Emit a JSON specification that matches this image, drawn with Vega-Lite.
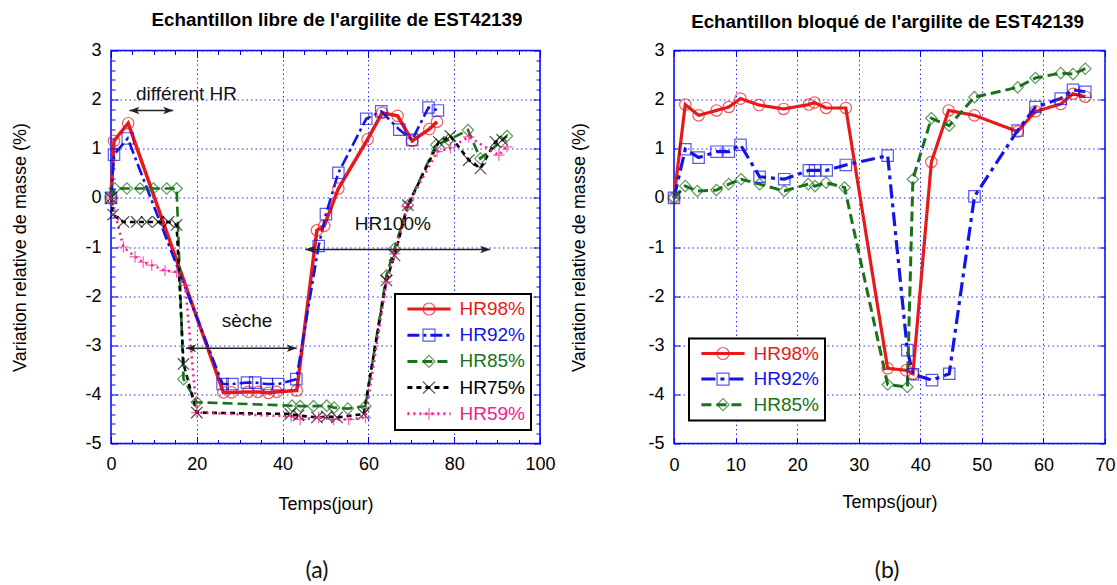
{
  "$schema": "https://vega.github.io/schema/vega-lite/v6.json",
  "background": "white",
  "padding": {"left": 11, "top": 9.5, "right": 3, "bottom": 1},
  "spacing": 13,
  "datasets": {
    "left": [
      {"s": "HR98%", "t": 0, "v": 0}, {"s": "HR98%", "t": 0.7, "v": 1.16}, {"s": "HR98%", "t": 4, "v": 1.52}, {"s": "HR98%", "t": 26.2, "v": -3.96}, {"s": "HR98%", "t": 28.1, "v": -3.96}, {"s": "HR98%", "t": 32, "v": -3.95}, {"s": "HR98%", "t": 34.3, "v": -3.95}, {"s": "HR98%", "t": 36.7, "v": -3.97}, {"s": "HR98%", "t": 38.6, "v": -3.95}, {"s": "HR98%", "t": 43.3, "v": -3.92}, {"s": "HR98%", "t": 48, "v": -0.66}, {"s": "HR98%", "t": 49.7, "v": -0.57}, {"s": "HR98%", "t": 53, "v": 0.19}, {"s": "HR98%", "t": 59.8, "v": 1.19}, {"s": "HR98%", "t": 63.2, "v": 1.73}, {"s": "HR98%", "t": 66.8, "v": 1.67}, {"s": "HR98%", "t": 70.2, "v": 1.16}, {"s": "HR98%", "t": 74.2, "v": 1.4}, {"s": "HR98%", "t": 76, "v": 1.55},
      {"s": "HR92%", "t": 0, "v": 0}, {"s": "HR92%", "t": 0.7, "v": 0.88}, {"s": "HR92%", "t": 3.9, "v": 1.21}, {"s": "HR92%", "t": 26, "v": -3.79}, {"s": "HR92%", "t": 28.3, "v": -3.79}, {"s": "HR92%", "t": 31.7, "v": -3.76}, {"s": "HR92%", "t": 33.6, "v": -3.76}, {"s": "HR92%", "t": 36.3, "v": -3.79}, {"s": "HR92%", "t": 39, "v": -3.79}, {"s": "HR92%", "t": 43.2, "v": -3.69}, {"s": "HR92%", "t": 48.4, "v": -0.98}, {"s": "HR92%", "t": 50.1, "v": -0.33}, {"s": "HR92%", "t": 53, "v": 0.51}, {"s": "HR92%", "t": 59.5, "v": 1.61}, {"s": "HR92%", "t": 63, "v": 1.76}, {"s": "HR92%", "t": 67.2, "v": 1.39}, {"s": "HR92%", "t": 70.2, "v": 1.18}, {"s": "HR92%", "t": 74, "v": 1.84}, {"s": "HR92%", "t": 76.2, "v": 1.78},
      {"s": "HR85%", "t": 0, "v": 0}, {"s": "HR85%", "t": 0.9, "v": 0.19}, {"s": "HR85%", "t": 3.7, "v": 0.19}, {"s": "HR85%", "t": 6.8, "v": 0.19}, {"s": "HR85%", "t": 9.9, "v": 0.19}, {"s": "HR85%", "t": 13, "v": 0.19}, {"s": "HR85%", "t": 15.3, "v": 0.19}, {"s": "HR85%", "t": 16.9, "v": -3.69}, {"s": "HR85%", "t": 20, "v": -4.16}, {"s": "HR85%", "t": 42.2, "v": -4.23}, {"s": "HR85%", "t": 44.1, "v": -4.24}, {"s": "HR85%", "t": 47.2, "v": -4.24}, {"s": "HR85%", "t": 50.3, "v": -4.23}, {"s": "HR85%", "t": 52, "v": -4.27}, {"s": "HR85%", "t": 55.2, "v": -4.29}, {"s": "HR85%", "t": 59.3, "v": -4.24}, {"s": "HR85%", "t": 64.2, "v": -1.58}, {"s": "HR85%", "t": 66.1, "v": -1.03}, {"s": "HR85%", "t": 69.2, "v": -0.15}, {"s": "HR85%", "t": 75.8, "v": 1.08}, {"s": "HR85%", "t": 78.7, "v": 1.18}, {"s": "HR85%", "t": 83.2, "v": 1.38}, {"s": "HR85%", "t": 86.1, "v": 0.8}, {"s": "HR85%", "t": 90.8, "v": 1.14}, {"s": "HR85%", "t": 92.3, "v": 1.26},
      {"s": "HR75%", "t": 0, "v": 0}, {"s": "HR75%", "t": 0.5, "v": -0.34}, {"s": "HR75%", "t": 2.9, "v": -0.49}, {"s": "HR75%", "t": 6, "v": -0.49}, {"s": "HR75%", "t": 8.3, "v": -0.49}, {"s": "HR75%", "t": 11, "v": -0.49}, {"s": "HR75%", "t": 13.4, "v": -0.49}, {"s": "HR75%", "t": 15.3, "v": -0.55}, {"s": "HR75%", "t": 16.9, "v": -3.38}, {"s": "HR75%", "t": 20, "v": -4.37}, {"s": "HR75%", "t": 41.8, "v": -4.4}, {"s": "HR75%", "t": 43.7, "v": -4.43}, {"s": "HR75%", "t": 48, "v": -4.47}, {"s": "HR75%", "t": 50.3, "v": -4.45}, {"s": "HR75%", "t": 52.7, "v": -4.47}, {"s": "HR75%", "t": 58.9, "v": -4.4}, {"s": "HR75%", "t": 64.2, "v": -1.68}, {"s": "HR75%", "t": 66.1, "v": -1.17}, {"s": "HR75%", "t": 69.2, "v": -0.15}, {"s": "HR75%", "t": 76.4, "v": 1.14}, {"s": "HR75%", "t": 79.1, "v": 1.26}, {"s": "HR75%", "t": 83.4, "v": 0.77}, {"s": "HR75%", "t": 86.1, "v": 0.6}, {"s": "HR75%", "t": 89.6, "v": 1.14}, {"s": "HR75%", "t": 91.2, "v": 1.18},
      {"s": "HR59%", "t": 0, "v": 0}, {"s": "HR59%", "t": 2.9, "v": -1.0}, {"s": "HR59%", "t": 5.6, "v": -1.2}, {"s": "HR59%", "t": 7.5, "v": -1.31}, {"s": "HR59%", "t": 9.5, "v": -1.37}, {"s": "HR59%", "t": 12.6, "v": -1.48}, {"s": "HR59%", "t": 15.3, "v": -1.51}, {"s": "HR59%", "t": 17.3, "v": -1.78}, {"s": "HR59%", "t": 20, "v": -4.37}, {"s": "HR59%", "t": 42, "v": -4.45}, {"s": "HR59%", "t": 44.1, "v": -4.51}, {"s": "HR59%", "t": 48.4, "v": -4.47}, {"s": "HR59%", "t": 51.9, "v": -4.51}, {"s": "HR59%", "t": 55.4, "v": -4.51}, {"s": "HR59%", "t": 59.3, "v": -4.47}, {"s": "HR59%", "t": 64.2, "v": -1.71}, {"s": "HR59%", "t": 66.1, "v": -1.14}, {"s": "HR59%", "t": 69, "v": -0.18}, {"s": "HR59%", "t": 76, "v": 0.94}, {"s": "HR59%", "t": 79.1, "v": 1.02}, {"s": "HR59%", "t": 83.4, "v": 1.24}, {"s": "HR59%", "t": 90.4, "v": 0.87}, {"s": "HR59%", "t": 92.3, "v": 1.04}
    ],
    "right": [
      {"s": "HR98%", "t": 0, "v": 0}, {"s": "HR98%", "t": 1.83, "v": 1.9}, {"s": "HR98%", "t": 4.0, "v": 1.68}, {"s": "HR98%", "t": 6.9, "v": 1.78}, {"s": "HR98%", "t": 8.9, "v": 1.85}, {"s": "HR98%", "t": 10.8, "v": 2.02}, {"s": "HR98%", "t": 13.8, "v": 1.89}, {"s": "HR98%", "t": 17.8, "v": 1.81}, {"s": "HR98%", "t": 21.9, "v": 1.9}, {"s": "HR98%", "t": 22.8, "v": 1.94}, {"s": "HR98%", "t": 24.7, "v": 1.83}, {"s": "HR98%", "t": 27.9, "v": 1.83}, {"s": "HR98%", "t": 34.7, "v": -3.47}, {"s": "HR98%", "t": 37.7, "v": -3.51}, {"s": "HR98%", "t": 38.8, "v": -3.58}, {"s": "HR98%", "t": 41.8, "v": 0.73}, {"s": "HR98%", "t": 44.6, "v": 1.78}, {"s": "HR98%", "t": 48.8, "v": 1.68}, {"s": "HR98%", "t": 55.8, "v": 1.35}, {"s": "HR98%", "t": 58.7, "v": 1.76}, {"s": "HR98%", "t": 62.8, "v": 1.91}, {"s": "HR98%", "t": 64.8, "v": 2.12}, {"s": "HR98%", "t": 66.8, "v": 2.06},
      {"s": "HR92%", "t": 0, "v": 0}, {"s": "HR92%", "t": 1.83, "v": 0.99}, {"s": "HR92%", "t": 4.0, "v": 0.82}, {"s": "HR92%", "t": 6.9, "v": 0.94}, {"s": "HR92%", "t": 8.9, "v": 0.94}, {"s": "HR92%", "t": 10.8, "v": 1.08}, {"s": "HR92%", "t": 13.9, "v": 0.43}, {"s": "HR92%", "t": 17.9, "v": 0.38}, {"s": "HR92%", "t": 21.9, "v": 0.56}, {"s": "HR92%", "t": 22.9, "v": 0.56}, {"s": "HR92%", "t": 24.8, "v": 0.56}, {"s": "HR92%", "t": 27.9, "v": 0.67}, {"s": "HR92%", "t": 34.7, "v": 0.86}, {"s": "HR92%", "t": 37.9, "v": -3.1}, {"s": "HR92%", "t": 38.8, "v": -3.59}, {"s": "HR92%", "t": 41.9, "v": -3.71}, {"s": "HR92%", "t": 44.7, "v": -3.58}, {"s": "HR92%", "t": 48.8, "v": 0.03}, {"s": "HR92%", "t": 55.8, "v": 1.37}, {"s": "HR92%", "t": 58.7, "v": 1.85}, {"s": "HR92%", "t": 62.8, "v": 2.02}, {"s": "HR92%", "t": 64.8, "v": 2.2}, {"s": "HR92%", "t": 66.8, "v": 2.16},
      {"s": "HR85%", "t": 0, "v": 0}, {"s": "HR85%", "t": 1.83, "v": 0.24}, {"s": "HR85%", "t": 3.8, "v": 0.14}, {"s": "HR85%", "t": 6.9, "v": 0.16}, {"s": "HR85%", "t": 8.9, "v": 0.28}, {"s": "HR85%", "t": 10.9, "v": 0.38}, {"s": "HR85%", "t": 13.9, "v": 0.28}, {"s": "HR85%", "t": 17.9, "v": 0.14}, {"s": "HR85%", "t": 21.8, "v": 0.28}, {"s": "HR85%", "t": 22.9, "v": 0.24}, {"s": "HR85%", "t": 24.7, "v": 0.31}, {"s": "HR85%", "t": 27.7, "v": 0.21}, {"s": "HR85%", "t": 34.7, "v": -3.8}, {"s": "HR85%", "t": 37.9, "v": -3.85}, {"s": "HR85%", "t": 38.8, "v": 0.38}, {"s": "HR85%", "t": 41.8, "v": 1.62}, {"s": "HR85%", "t": 44.7, "v": 1.47}, {"s": "HR85%", "t": 48.8, "v": 2.05}, {"s": "HR85%", "t": 55.8, "v": 2.25}, {"s": "HR85%", "t": 58.7, "v": 2.44}, {"s": "HR85%", "t": 62.8, "v": 2.54}, {"s": "HR85%", "t": 64.8, "v": 2.52}, {"s": "HR85%", "t": 66.8, "v": 2.63}
    ],
    "notes": [
      {"t": 17.6, "v": 2.11, "label": "différent HR"},
      {"t": 31.7, "v": -2.5, "label": "sèche"},
      {"t": 65.7, "v": -0.54, "label": "HR100%"}
    ],
    "arrows": [
      {"t1": 4.3, "t2": 14.5, "v": 1.78},
      {"t1": 17.5, "t2": 43.3, "v": -3.06},
      {"t1": 45.3, "t2": 88.4, "v": -1.05}
    ],
    "one": [{}]
  },
  "hconcat": [
    {
      "width": 429,
      "height": 393,
      "title": {"text": "Echantillon libre de l'argilite de EST42139", "font": "Liberation Sans", "fontSize": 18.8, "fontWeight": "bold", "color": "black", "frame": "group", "anchor": "middle", "offset": 12, "dx": 11.5},
      "resolve": {"axis": {"x": "independent", "y": "independent"}},
      "layer": [
        {
          "data": {"name": "left"},
          "mark": {"type": "line"},
          "encoding": {
            "x": {"field": "t", "type": "quantitative", "scale": {"domain": [0, 100], "nice": false, "zero": false},
              "axis": {"orient": "bottom", "title": "Temps(jour)", "values": [0,5,10,15,20,25,30,35,40,45,50,55,60,65,70,75,80,85,90,95,100],
                "labelExpr": "datum.value % 20 === 0 ? toString(datum.value) : ''", "labelOverlap": false, "labelFlush": false, "labelBound": false,
                "grid": true, "gridOpacity": {"condition": {"test": "datum.value % 20 !== 0", "value": 0}, "value": 1},
                "tickSize": {"condition": {"test": "datum.value % 20 !== 0", "value": -4}, "value": -7},
                "labelPadding": 19, "titlePadding": 18.5}},
            "y": {"field": "v", "type": "quantitative", "scale": {"domain": [-5, 3], "nice": false, "zero": false},
              "axis": {"orient": "left", "title": "Variation relative de masse (%)", "values": [-5,-4.8,-4.6,-4.4,-4.2,-4,-3.8,-3.6,-3.4,-3.2,-3,-2.8,-2.6,-2.4,-2.2,-2,-1.8,-1.6,-1.4,-1.2,-1,-0.8,-0.6,-0.4,-0.2,0,0.2,0.4,0.6,0.8,1,1.2,1.4,1.6,1.8,2,2.2,2.4,2.6,2.8,3],
                "labelExpr": "abs(datum.value - round(datum.value)) < 0.01 ? toString(round(datum.value)) : ''", "labelOverlap": false, "labelFlush": false, "labelBound": false,
                "grid": true, "gridOpacity": {"condition": {"test": "abs(datum.value - round(datum.value)) > 0.01", "value": 0}, "value": 1},
                "tickSize": {"condition": {"test": "abs(datum.value - round(datum.value)) > 0.01", "value": -4}, "value": -7},
                "labelPadding": 17, "titlePadding": 55}},
            "color": {"field": "s", "type": "nominal", "sort": "descending", "scale": {"range": ["#e8191b", "#1414e6", "#1b701b", "#000000", "#f0218e"]},
              "legend": {"orient": "none", "legendX": 284, "legendY": 243.5, "title": null, "symbolType": "M-3.6,0L3.6,0", "symbolSize": 144, "symbolStrokeWidth": 3, "symbolOffset": 19, "labelOffset": 21, "labelFont": "Liberation Sans", "labelFontSize": 19, "padding": 5.5, "rowPadding": 6.2, "strokeColor": "black", "fillColor": "white",
                "encode": {"legend": {"update": {"strokeWidth": {"value": 2}}}, "labels": {"update": {"fill": {"signal": "datum.value === 'HR98%' ? '#e8191b' : datum.value === 'HR92%' ? '#1414e6' : datum.value === 'HR85%' ? '#1b701b' : datum.value === 'HR75%' ? '#000000' : '#f0218e'"}}}}}},
            "strokeDash": {"field": "s", "type": "nominal", "sort": "descending", "scale": {"range": [[1, 0], [12, 4, 3, 4], [10, 5], [5, 4], [2, 4]]}},
            "strokeWidth": {"condition": {"test": "datum.s === 'HR98%'", "value": 3.5}, "value": 2.6}
          }
        },
        {
          "data": {"name": "left"},
          "mark": {"type": "point", "filled": false, "size": 130, "strokeWidth": 1.2},
          "encoding": {
            "x": {"field": "t", "type": "quantitative",
              "axis": {"orient": "top", "title": null, "labels": false, "grid": false, "values": [0,5,10,15,20,25,30,35,40,45,50,55,60,65,70,75,80,85,90,95,100],
                "tickSize": {"condition": {"test": "datum.value % 20 !== 0", "value": -4}, "value": -7}}},
            "y": {"field": "v", "type": "quantitative",
              "axis": {"orient": "right", "title": null, "labels": false, "grid": false, "values": [-5,-4.8,-4.6,-4.4,-4.2,-4,-3.8,-3.6,-3.4,-3.2,-3,-2.8,-2.6,-2.4,-2.2,-2,-1.8,-1.6,-1.4,-1.2,-1,-0.8,-0.6,-0.4,-0.2,0,0.2,0.4,0.6,0.8,1,1.2,1.4,1.6,1.8,2,2.2,2.4,2.6,2.8,3],
                "tickSize": {"condition": {"test": "abs(datum.value - round(datum.value)) > 0.01", "value": -4}, "value": -7}}},
            "shape": {"field": "s", "type": "nominal", "scale": {"domain": ["HR98%", "HR92%", "HR85%", "HR75%", "HR59%"], "range": ["circle", "square", "diamond", "M-1,-1L1,1M-1,1L1,-1", "M-1,0L1,0M0,-1L0,1"]},
              "legend": {"orient": "none", "legendX": 284, "legendY": 243.5, "title": null, "symbolSize": 144, "symbolStrokeWidth": 1.2, "symbolOffset": 19, "labelOffset": 21, "labelFont": "Liberation Sans", "labelFontSize": 19, "labelOpacity": 0, "padding": 5.5, "rowPadding": 6.2}},
            "stroke": {"field": "s", "type": "nominal", "scale": {"domain": ["HR98%", "HR92%", "HR85%", "HR75%", "HR59%"], "range": ["#e8191b", "#1414e6", "#1b701b", "#000000", "#f0218e"]}}
          }
        },
        {
          "data": {"name": "arrows"},
          "mark": {"type": "rule", "color": "#222222", "strokeWidth": 1.5},
          "encoding": {
            "x": {"field": "t1", "type": "quantitative", "axis": null},
            "x2": {"field": "t2"},
            "y": {"field": "v", "type": "quantitative", "axis": null}
          }
        },
        {
          "data": {"name": "arrows"},
          "mark": {"type": "point", "shape": "M0,0L2,-0.75L1.5,0L2,0.75Z", "filled": true, "size": 100, "color": "#222222", "opacity": 1},
          "encoding": {
            "x": {"field": "t1", "type": "quantitative", "axis": null},
            "y": {"field": "v", "type": "quantitative", "axis": null}
          }
        },
        {
          "data": {"name": "arrows"},
          "mark": {"type": "point", "shape": "M0,0L-2,-0.75L-1.5,0L-2,0.75Z", "filled": true, "size": 100, "color": "#222222", "opacity": 1},
          "encoding": {
            "x": {"field": "t2", "type": "quantitative", "axis": null},
            "y": {"field": "v", "type": "quantitative", "axis": null}
          }
        },
        {
          "data": {"name": "notes"},
          "mark": {"type": "text", "font": "Liberation Sans", "fontSize": 19, "color": "#111111", "baseline": "middle", "align": "center"},
          "encoding": {
            "x": {"field": "t", "type": "quantitative", "axis": null},
            "y": {"field": "v", "type": "quantitative", "axis": null},
            "text": {"field": "label"}
          }
        },
        {
          "data": {"name": "one"},
          "mark": {"type": "text", "font": "Lato", "fontSize": 23, "color": "#111111", "baseline": "middle", "align": "center"},
          "encoding": {
            "x": {"datum": 48.0, "type": "quantitative", "axis": null},
            "y": {"datum": -7.6, "type": "quantitative", "axis": null},
            "text": {"value": "(a)"}
          }
        }
      ]
    },
    {
      "width": 431,
      "height": 393,
      "title": {"text": "Echantillon bloqué de l'argilite de EST42139", "font": "Liberation Sans", "fontSize": 18.8, "fontWeight": "bold", "color": "black", "frame": "group", "anchor": "middle", "offset": 10, "dx": -2},
      "resolve": {"axis": {"x": "independent", "y": "independent"}},
      "layer": [
        {
          "data": {"name": "right"},
          "mark": {"type": "line"},
          "encoding": {
            "x": {"field": "t", "type": "quantitative", "scale": {"domain": [0, 70], "nice": false, "zero": false},
              "axis": {"orient": "bottom", "title": "Temps(jour)", "values": [0,10,20,30,40,50,60,70], "labelExpr": "toString(datum.value)", "labelOverlap": false, "labelFlush": false, "labelBound": false,
                "grid": true, "tickSize": -6, "labelPadding": 19, "titlePadding": 18.5}},
            "y": {"field": "v", "type": "quantitative", "scale": {"domain": [-5, 3], "nice": false, "zero": false},
              "axis": {"orient": "left", "title": "Variation relative de masse (%)", "values": [-5,-4,-3,-2,-1,0,1,2,3], "labelExpr": "toString(datum.value)", "labelOverlap": false, "labelFlush": false, "labelBound": false,
                "grid": true, "tickSize": -6, "labelPadding": 16, "titlePadding": 59.7}},
            "color": {"field": "s", "type": "nominal", "sort": "descending", "scale": {"range": ["#e8191b", "#1414e6", "#1b701b"]},
              "legend": {"orient": "none", "legendX": 15, "legendY": 288, "title": null, "symbolType": "M-3.6,0L3.6,0", "symbolSize": 144, "symbolStrokeWidth": 3, "symbolOffset": 19, "labelOffset": 21, "labelFont": "Liberation Sans", "labelFontSize": 19, "padding": 5.5, "rowPadding": 5.6, "strokeColor": "black", "fillColor": "white",
                "encode": {"legend": {"update": {"strokeWidth": {"value": 2}}}, "labels": {"update": {"fill": {"signal": "datum.value === 'HR98%' ? '#e8191b' : datum.value === 'HR92%' ? '#1414e6' : '#1b701b'"}}}}}},
            "strokeDash": {"field": "s", "type": "nominal", "sort": "descending", "scale": {"range": [[1, 0], [14, 5, 4, 5], [10, 5]]}},
            "strokeWidth": {"condition": {"test": "datum.s === 'HR85%'", "value": 3}, "value": 3.2}
          }
        },
        {
          "data": {"name": "right"},
          "mark": {"type": "point", "filled": false, "size": 130, "strokeWidth": 1.2},
          "encoding": {
            "x": {"field": "t", "type": "quantitative",
              "axis": {"orient": "top", "title": null, "labels": false, "grid": false, "values": [0,10,20,30,40,50,60,70], "tickSize": -6}},
            "y": {"field": "v", "type": "quantitative",
              "axis": {"orient": "right", "title": null, "labels": false, "grid": false, "values": [-5,-4,-3,-2,-1,0,1,2,3], "tickSize": -6}},
            "shape": {"field": "s", "type": "nominal", "scale": {"domain": ["HR98%", "HR92%", "HR85%"], "range": ["circle", "square", "diamond"]},
              "legend": {"orient": "none", "legendX": 15, "legendY": 288, "title": null, "symbolSize": 144, "symbolStrokeWidth": 1.2, "symbolOffset": 19, "labelOffset": 21, "labelFont": "Liberation Sans", "labelFontSize": 19, "labelOpacity": 0, "padding": 5.5, "rowPadding": 5.6}},
            "stroke": {"field": "s", "type": "nominal", "scale": {"domain": ["HR98%", "HR92%", "HR85%"], "range": ["#e8191b", "#1414e6", "#1b701b"]}}
          }
        },
        {
          "data": {"name": "one"},
          "mark": {"type": "text", "font": "Lato", "fontSize": 23, "color": "#111111", "baseline": "middle", "align": "center"},
          "encoding": {
            "x": {"datum": 34.6, "type": "quantitative", "axis": null},
            "y": {"datum": -7.6, "type": "quantitative", "axis": null},
            "text": {"value": "(b)"}
          }
        }
      ]
    }
  ],
  "resolve": {
    "scale": {"color": "independent", "shape": "independent", "stroke": "independent", "strokeDash": "independent"},
    "legend": {"color": "independent", "shape": "independent", "stroke": "independent", "strokeDash": "independent"}
  },
  "config": {
    "font": "Liberation Sans",
    "view": {"stroke": "#0000ff", "strokeWidth": 1.5, "fill": "white"},
    "axis": {"domain": false, "labelFont": "Liberation Sans", "labelFontSize": 18, "labelColor": "black", "titleFont": "Liberation Sans", "titleFontSize": 18, "titleFontWeight": "normal", "titleColor": "black", "tickColor": "#0000ff", "tickWidth": 1, "gridColor": "#2a2aff", "gridDash": [1.5, 3], "gridWidth": 1, "gridOpacity": 1}
  }
}
